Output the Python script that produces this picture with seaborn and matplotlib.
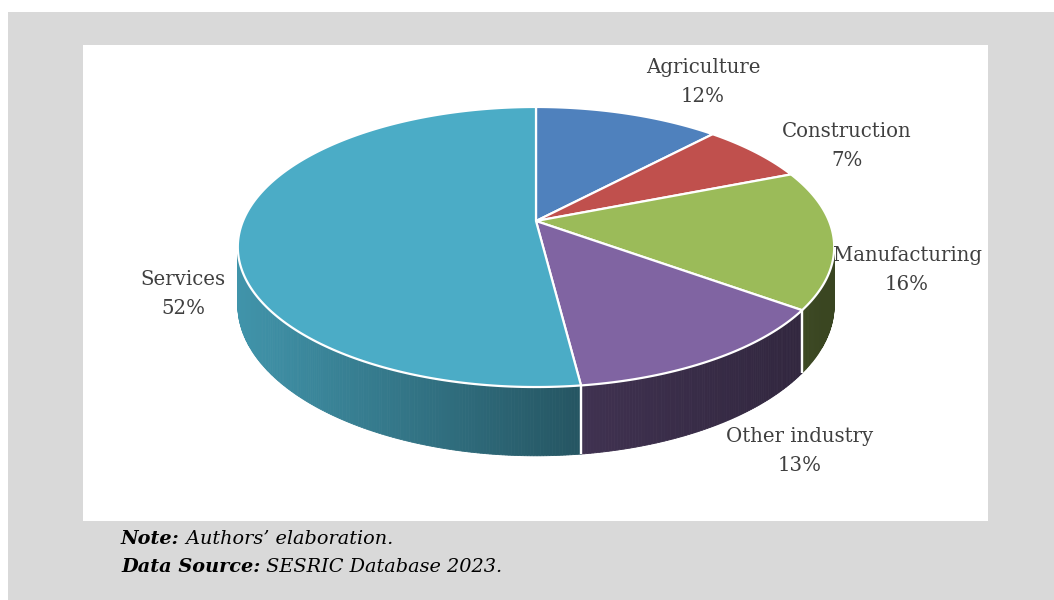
import numpy as np
import matplotlib
matplotlib.use("Agg")
import matplotlib.pyplot as plt
from matplotlib.patches import Polygon, Rectangle
import seaborn as sns

# Employment shares by sector (%)
sectors = ["Agriculture", "Construction", "Manufacturing", "Other industry", "Services"]
shares = [12, 7, 16, 13, 52]
percent_labels = ["12%", "7%", "16%", "13%", "52%"]
slice_colors = ["#4F81BD", "#C0504D", "#9BBB59", "#8064A2", "#4BACC6"]
note_heads = ["Note:", "Data Source:"]
note_texts = [" Authors\u2019 elaboration.", " SESRIC Database 2023."]

sns.set_theme(style="white")
plt.rcParams["font.family"] = ["DejaVu Serif"]
palette = sns.color_palette(slice_colors)

W, H = 1054, 600
fig = plt.figure(figsize=(W / 100, H / 100), dpi=100)
ax = fig.add_axes([0, 0, 1, 1])
ax.set_xlim(0, W)
ax.set_ylim(H, 0)
ax.axis("off")

# page frame: grey box with white chart area
ax.add_patch(Rectangle((8, 12), W - 8, H - 12, fc="#D9D9D9", ec="none", zorder=0))
ax.add_patch(Rectangle((83, 45), 905, 476, fc="white", ec="none", zorder=0))

# perspective projection of a flat disc
cx, cy = 536.0, 221.0
A, B, k = 293.0, 135.2, 0.1857
thick = 56.0


def project(theta, drop=0.0):
    w = 1 + k * np.cos(theta)
    x = cx + A * np.sin(theta) / w
    y = cy - B * np.cos(theta) / w + drop / w
    return x, y


fracs = np.array(shares, dtype=float) / np.sum(shares)
bounds = np.concatenate([[0.0], np.cumsum(fracs)]) * 2 * np.pi

front_lo = np.arccos(-k)
front_hi = 2 * np.pi - front_lo


def side_shade(x):
    return np.interp(x, [237, 575, 833], [0.86, 0.50, 0.37])


# side walls (front half only), shaded strip by strip
for i, col in enumerate(palette):
    t0, t1 = max(bounds[i], front_lo), min(bounds[i + 1], front_hi)
    if t1 <= t0:
        continue
    steps = max(int(np.degrees(t1 - t0) * 2), 2)
    ts = np.linspace(t0, t1, steps + 1)
    for a, b in zip(ts[:-1], ts[1:]):
        xa, ya = project(a)
        xb, yb = project(b)
        xa2, ya2 = project(a, thick)
        xb2, yb2 = project(b, thick)
        f = side_shade(0.5 * (xa + xb))
        c = tuple(np.array(col) * f)
        ax.add_patch(Polygon([(xa, ya), (xb, yb), (xb2, yb2), (xa2, ya2)],
                             closed=True, fc=c, ec=c, lw=0.6, zorder=1))
    # white seams where slices meet on the wall
    for t in (bounds[i], bounds[i + 1]):
        if front_lo < t < front_hi:
            x1, y1 = project(t)
            x2, y2 = project(t, thick)
            ax.plot([x1, x2], [y1, y2], color="white", lw=1.6, zorder=2,
                    solid_capstyle="butt")

# top faces
for i, col in enumerate(palette):
    ts = np.linspace(bounds[i], bounds[i + 1], 200)
    xs, ys = project(ts)
    pts = [(cx, cy)] + list(zip(xs, ys))
    ax.add_patch(Polygon(pts, closed=True, fc=col, ec="white", lw=1.6,
                         joinstyle="round", zorder=3))

# data labels
label_pos = [(703, 82), (847, 146), (907, 270), (800, 451), (183, 294)]
for name, pct, (lx, ly) in zip(sectors, percent_labels, label_pos):
    ax.text(lx, ly, f"{name}\n{pct}", ha="center", va="center",
            fontsize=14.2, color="#404040", linespacing=1.62, zorder=4)

# notes under the chart
for j, (head, body) in enumerate(zip(note_heads, note_texts)):
    y = 539 + 28 * j
    t = ax.text(121, y, head, ha="left", va="center", fontsize=13.9,
                fontweight="bold", fontstyle="italic", color="black", zorder=4)
    fig.canvas.draw()
    bb = t.get_window_extent().transformed(ax.transData.inverted())
    ax.text(bb.x1, y, body, ha="left", va="center", fontsize=13.9,
            fontstyle="italic", color="black", zorder=4)

fig.savefig("out.png", dpi=100)
